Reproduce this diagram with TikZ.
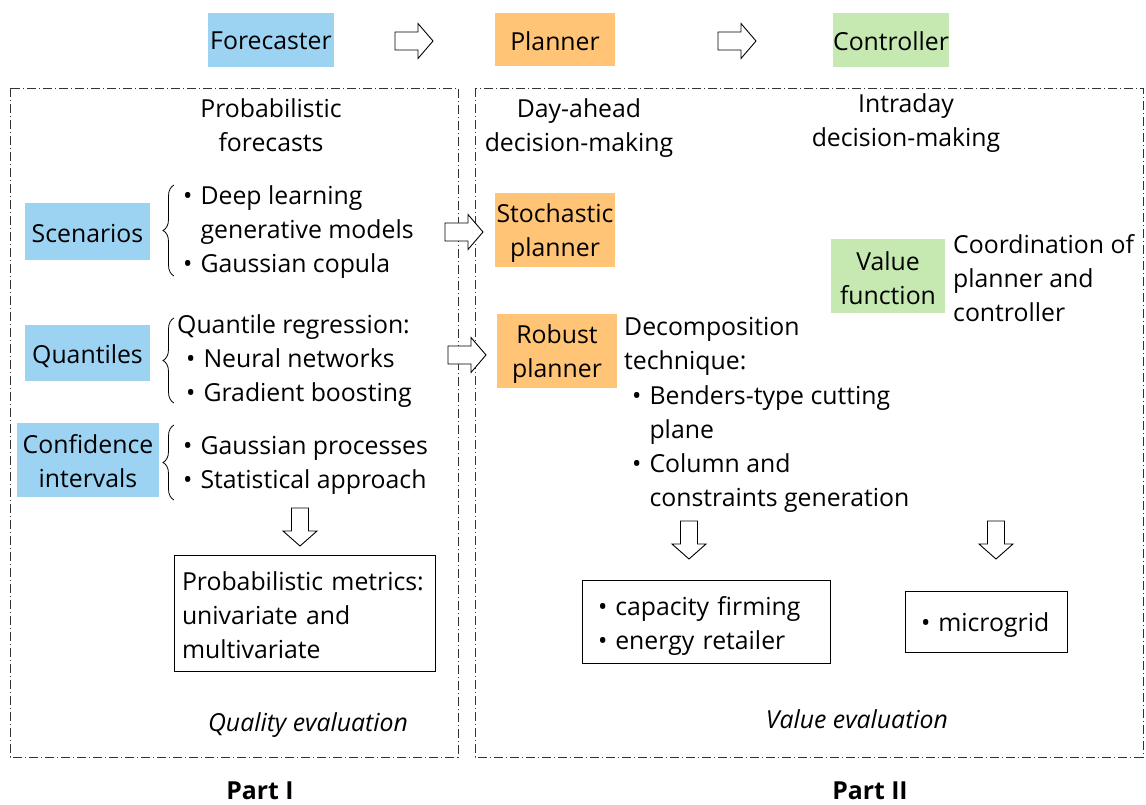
\documentclass[tikz,border=0pt]{standalone}
\usepackage{fontspec}
\setmainfont{Open Sans}
\usetikzlibrary{decorations.pathreplacing}
\definecolor{fblue}{RGB}{157,211,242}
\definecolor{forange}{RGB}{255,196,118}
\definecolor{fgreen}{RGB}{198,232,177}
\newcommand{\fs}{\fontsize{24.8}{34}\selectfont}
\newcommand{\bul}{•\hspace{8pt}}
\newcommand{\nobul}{\hphantom{•}\hspace{8pt}}
\newcommand{\lw}[2][2.5pt]{\raisebox{-#1}[\height][\depth]{#2}}
\tikzset{
  rarrow/.pic={\draw[fill=white,line width=0.9pt,line join=miter] (-19,-9) -- (4,-9) -- (4,-17.5) -- (19,0) -- (4,17.5) -- (4,9) -- (-19,9) -- cycle;},
  darrow/.pic={\draw[fill=white,line width=0.9pt,line join=miter] (-8.5,-19) -- (8.5,-19) -- (8.5,4) -- (17,4) -- (0,19) -- (-17,4) -- (-8.5,4) -- cycle;},
  colbox/.style={fill=#1, align=center},
  txt/.style={align=left, anchor=west},
  framebox/.style={draw=black!80, line width=0.8pt, dash pattern=on 9pt off 3pt on 1pt off 3pt},
  outbox/.style={draw, line width=0.9pt, align=left},
  lbrace/.style={decorate, decoration={brace, amplitude=11pt}, line width=0.8pt},
}
\begin{document}
\begin{tikzpicture}[x=1pt,y=-1pt,font=\fs, every node/.style={inner sep=0pt}]
\useasboundingbox (0,0) rectangle (1146,805);
% top row
\node[colbox=fblue, minimum width=126, minimum height=54] (forecaster) at (271,40) {\lw[1pt]{Forecaster}};
\node[colbox=forange, minimum width=120, minimum height=53] (planner) at (555,40) {\lw[1pt]{Planner}};
\node[colbox=fgreen, minimum width=116, minimum height=54] (controller) at (891,40) {\lw[1pt]{Controller}};
\pic at (414,41) {rarrow};
\pic at (737,41) {rarrow};
% frames
\draw[framebox] (10,88) rectangle (458,757);
\draw[framebox] (475,88) rectangle (1143,757);
% headings
\node[align=center] (probf) at (271,125) {Probabilistic\\forecasts};
\node[align=center] (dayahead) at (579,128) {Day-ahead\\decision-making};
\node[align=center] (intraday) at (906,123.5) {Intraday\\decision-making};
% scenarios
\node[colbox=fblue, minimum width=125, minimum height=57] (scen) at (87.5,231.5) {\lw{Scenarios}};
\draw[lbrace] (174,276) -- (174,185);
\node[txt] (scenlist) at (183,232) {\bul Deep learning\\\nobul generative models\\\bul Gaussian copula};
\pic at (464,232) {rarrow};
\node[colbox=forange, minimum width=120, minimum height=74] (stoch) at (555,230) {\lw[3pt]{Stochastic}\\\lw[3pt]{planner}};
% quantiles
\node[colbox=fblue, minimum width=125, minimum height=56] (quant) at (87.5,353) {\lw[3pt]{Quantiles}};
\draw[lbrace] (174,403) -- (174,318);
\node[txt] (qrlist) at (177,361.5) {Quantile regression:\\\hspace*{9pt}\bul Neural networks\\\hspace*{9pt}\bul Gradient boosting};
\pic at (467,355) {rarrow};
\node[colbox=forange, minimum width=120, minimum height=74] (robust) at (557,351) {\lw[3.5pt]{Robust}\\\lw[3.5pt]{planner}};
\node[txt] (decomp) at (624,346.5) {Decomposition\\technique:};
\node[txt] (benders) at (632,449) {\bul Benders-type cutting\\\nobul plane\\\bul Column and\\\nobul constraints generation};
% confidence intervals
\node[colbox=fblue, minimum width=142, minimum height=74] (conf) at (88,460) {\lw[1pt]{Confidence}\\\lw[1pt]{intervals}};
\draw[lbrace] (174,500) -- (174,425);
\node[txt] (gplist) at (183,465) {\bul Gaussian processes\\\bul Statistical approach};
\pic at (300,527) {darrow};
\node[outbox, minimum width=261, minimum height=116, text width=245, inner xsep=8pt] (metrics) at (304.5,613) {\mbox{\lw{Probabilistic metrics:}}\\\lw{univariate and}\\\lw{multivariate}};
\node[font=\fs\itshape] (quality) at (308,725) {Quality evaluation};
% value function
\node[colbox=fgreen, minimum width=114, minimum height=73] (valuef) at (888,276) {\lw[2pt]{Value}\\\lw[2pt]{function}};
\node[txt] (coord) at (953,278) {Coordination of\\planner and\\controller};
\pic at (689,540) {darrow};
\pic at (996,540) {darrow};
\node[outbox, minimum width=248, minimum height=83, text width=216, inner xsep=16pt] (capfirm) at (706,621.5) {\mbox{\lw[4pt]{\bul capacity firming}}\\\mbox{\lw[4pt]{\bul energy retailer}}};
\node[outbox, minimum width=162, minimum height=61, text width=130, inner xsep=16pt] (micro) at (986,621.5) {\mbox{\lw[4pt]{\bul microgrid}}};
\node[font=\fs\itshape] (valueeval) at (857,719) {Value evaluation};
% parts
\node[font=\fs\bfseries] (part1) at (260,791) {Part I};
\node[font=\fs\bfseries] (part2) at (870,791) {Part II};
\end{tikzpicture}
\end{document}
